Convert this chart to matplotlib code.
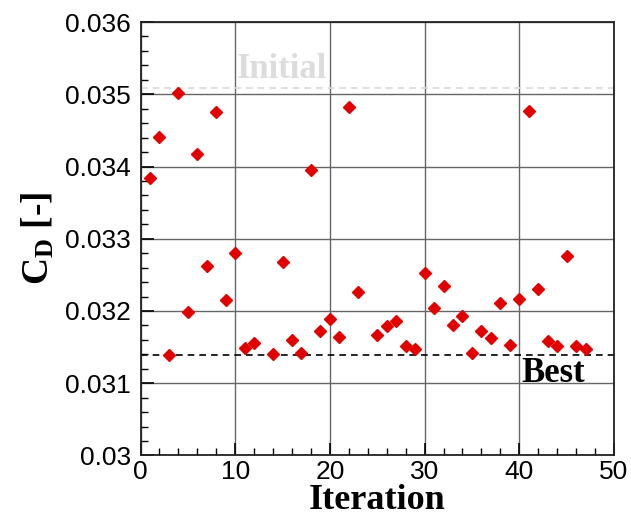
import matplotlib
matplotlib.use("Agg")
import matplotlib.pyplot as plt
from matplotlib.ticker import MultipleLocator, FuncFormatter

iterations = [1, 2, 3, 4, 5, 6, 7, 8, 9, 10, 11, 12, 14, 15, 16, 17, 18, 19, 20,
              21, 22, 23, 25, 26, 27, 28, 29, 30, 31, 32, 33, 34, 35, 36, 37, 38,
              39, 40, 41, 42, 43, 44, 45, 46, 47]
cd_values = [0.03384, 0.034415, 0.031396, 0.035014, 0.031992, 0.034176, 0.032628,
             0.03475, 0.032148, 0.032802, 0.031488, 0.031562, 0.031405, 0.032683,
             0.031599, 0.031419, 0.033954, 0.031719, 0.031889, 0.031636, 0.034829,
             0.032259, 0.031664, 0.031793, 0.031858, 0.03152, 0.031479, 0.032521,
             0.032047, 0.032342, 0.031806, 0.031931, 0.031415, 0.031723, 0.031627,
             0.032106, 0.031534, 0.032166, 0.034769, 0.0323, 0.031589, 0.03152,
             0.032757, 0.031516, 0.03147]
initial_cd = 0.03509
best_cd = 0.03139
x_ticks = [0, 10, 20, 30, 40, 50]
y_ticks = [0.030, 0.031, 0.032, 0.033, 0.034, 0.035, 0.036]

plt.rcParams['mathtext.fontset'] = 'custom'
plt.rcParams['mathtext.rm'] = 'Liberation Serif'
plt.rcParams['mathtext.bf'] = 'Liberation Serif:bold'
plt.rcParams['mathtext.it'] = 'Liberation Serif:italic'

fig = plt.figure(figsize=(6.31, 5.18), dpi=100)
ax = fig.add_axes([0.2227, 0.1207, 0.7503, 0.8368])

ax.set_xlim(0, 50)
ax.set_ylim(0.030, 0.036)
ax.set_xticks(x_ticks)
ax.set_yticks(y_ticks)
ax.xaxis.set_minor_locator(MultipleLocator(2))
ax.yaxis.set_minor_locator(MultipleLocator(0.0002))
ax.yaxis.set_major_formatter(FuncFormatter(lambda v, p: '%g' % round(v, 6)))
ax.xaxis.set_major_formatter(FuncFormatter(lambda v, p: '%g' % v))

ax.grid(True, which='major', color='#666666', linewidth=1.0, zorder=0)
ax.set_axisbelow(True)

ax.tick_params(which='both', direction='in', top=False, right=False,
               labelsize=19, colors='black')
ax.tick_params(axis='y', pad=7)
ax.tick_params(axis='x', pad=3)
ax.tick_params(which='major', length=9, width=1.2)
ax.tick_params(which='minor', length=5, width=1.0)
for lab in ax.get_xticklabels() + ax.get_yticklabels():
    lab.set_fontfamily('Liberation Sans')

for s in ax.spines.values():
    s.set_color('#222222')
    s.set_linewidth(1.3)

ax.axhline(initial_cd, color='#d8d8d8', linestyle=(0, (4, 3)), linewidth=1.2, zorder=2)
ax.axhline(best_cd, color='black', linestyle=(0, (4, 3)), linewidth=1.2, zorder=2)

ax.plot(iterations, cd_values, linestyle='none', marker='D', markersize=6.5,
        color='#e00000', markeredgecolor='#e00000', zorder=3)

ax.text(15, initial_cd + 0.00002, 'Initial', color='#dcdcdc', fontsize=25,
        fontweight='bold', family='Liberation Serif', ha='center', va='bottom')
ax.text(43.6, best_cd - 0.00002, 'Best', color='black', fontsize=25,
        fontweight='bold', family='Liberation Serif', ha='center', va='top')

ax.set_xlabel('Iteration', fontsize=26, fontweight='bold', family='Liberation Serif',
              labelpad=0)
ax.set_ylabel(r'$\mathbf{C_D}$ [-]', fontsize=27, fontweight='bold',
              family='Liberation Serif', labelpad=6)

fig.savefig('out.png', dpi=100)
